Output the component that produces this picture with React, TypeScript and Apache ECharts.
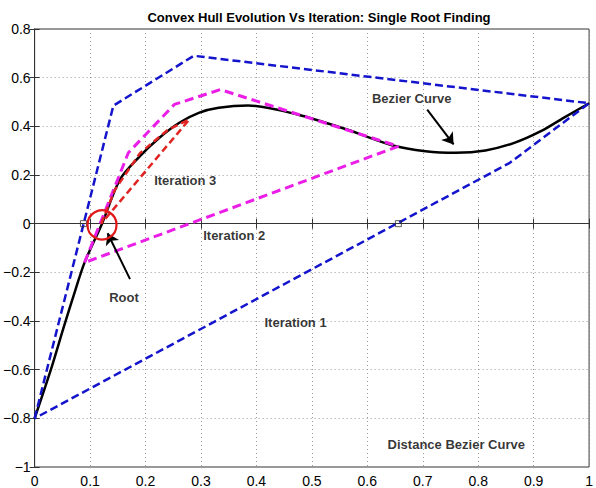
import React, { useEffect, useRef } from "react";
import * as echarts from "echarts";

const titleText = "Convex Hull Evolution Vs Iteration: Single Root Finding";

// Bezier curve samples
const bezierCurve: [number, number][] = [
  [0, -0.8], [0.0297, -0.597], [0.0533, -0.419], [0.074, -0.269], [0.09, -0.16],
  [0.1215, 0.0], [0.154, 0.182], [0.19, 0.2776], [0.225, 0.353], [0.261, 0.4145],
  [0.296, 0.4555], [0.332, 0.476], [0.385, 0.4855], [0.474, 0.4485], [0.563, 0.387],
  [0.646, 0.3215], [0.705, 0.298], [0.7596, 0.2915], [0.813, 0.301], [0.865, 0.332],
  [0.913, 0.38], [0.954, 0.435], [1, 0.495],
];

// Iteration 1 convex hull (blue)
const hull1: [number, number][] = [
  [0, -0.8], [0.142, 0.485], [0.287, 0.69], [1, 0.495], [0.857, 0.25], [0, -0.8],
];
// Iteration 2 convex hull (magenta)
const hull2: [number, number][] = [
  [0.09, -0.16], [0.169, 0.2915], [0.252, 0.49], [0.335, 0.551], [0.656, 0.318], [0.09, -0.16],
];
// Iteration 3 convex hull (red)
const hull3: [number, number][] = [
  [0.12, 0.0], [0.145, 0.14], [0.19, 0.29], [0.24, 0.385], [0.279, 0.428], [0.12, 0.0],
];

// hull / axis intersections
const crossings: [number, number][] = [[0.088, 0], [0.656, 0]];
const rootPoint: [number, number][] = [[0.1215, -0.005]];

// annotations
const labels: [number, number, string][] = [
  [0.68, 0.513, "Bezier Curve"],
  [0.2716, 0.178, "Iteration 3"],
  [0.36, -0.0504, "Iteration 2"],
  [0.1612, -0.303, "Root"],
  [0.4706, -0.4055, "Iteration 1"],
  [0.7604, -0.9086, "Distance Bezier Curve"],
];
const arrows: [[number, number], [number, number]][] = [
  [[0.708, 0.469], [0.7556, 0.3256]],
  [[0.172, -0.228], [0.1316, -0.0394]],
];

const xTicks = { min: 0, max: 1, interval: 0.1 };
const yTicks = { min: -1, max: 0.8, interval: 0.2 };

const FONT = "'Liberation Sans', Arial, Helvetica, sans-serif";

const fmt = (v: number) => String(+Number(v).toFixed(1)).replace("-", "\u2212");

export default function App() {
  const ref = useRef<HTMLDivElement>(null);
  useEffect(() => {
    if (!ref.current) return;
    const chart = echarts.init(ref.current, undefined, { renderer: "svg" });
    const axisLine = { show: true, lineStyle: { color: "#333", width: 1 } };
    const tick = { show: true, inside: true, length: 5, lineStyle: { color: "#333" } };
    const split = { show: true, lineStyle: { color: "#9a9a9a", type: [1, 3] as any, width: 1 } };
    chart.setOption({
      animation: false,
      backgroundColor: "#fff",
      title: {
        text: titleText,
        left: 314,
        textAlign: "center",
        top: 6,
        textStyle: { fontFamily: FONT, fontSize: 13, fontWeight: "bold", color: "#000" },
      },
      grid: { left: 33, right: 0, top: 29, bottom: 20, show: true, borderColor: "#333", borderWidth: 1 },
      xAxis: [
        {
          type: "value", ...xTicks, position: "bottom",
          axisLine, axisTick: tick, splitLine: split,
          axisLabel: { fontFamily: FONT, fontSize: 14, color: "#000", margin: 7, formatter: fmt },
        },
        {
          type: "value", ...xTicks, position: "top",
          axisLine, axisTick: tick, splitLine: { show: false }, axisLabel: { show: false },
        },
      ],
      yAxis: [
        {
          type: "value", ...yTicks, position: "left",
          axisLine, axisTick: tick, splitLine: split,
          axisLabel: { fontFamily: FONT, fontSize: 14, color: "#000", margin: 4, formatter: fmt },
        },
        {
          type: "value", ...yTicks, position: "right",
          axisLine, axisTick: tick, splitLine: { show: false }, axisLabel: { show: false },
        },
      ],
      series: [
        {
          type: "line", data: bezierCurve, smooth: 0.3, showSymbol: false,
          lineStyle: { color: "#000", width: 2.5 }, silent: true, z: 3,
          markLine: {
            silent: true, symbol: ["none", "arrow"], symbolSize: 11,
            lineStyle: { color: "#000", width: 2, type: "solid" },
            label: { show: false },
            data: arrows.map(([a, b]) => [{ coord: a }, { coord: b }]),
          },
        },
        {
          type: "line", data: hull1, showSymbol: false,
          lineStyle: { color: "#1414cc", width: 2.5, type: [8, 4] }, silent: true, z: 4,
        },
        {
          type: "line", data: hull2, showSymbol: false,
          lineStyle: { color: "#ea1ee6", width: 3, type: [9, 5] }, silent: true, z: 4,
        },
        {
          type: "line", data: hull3, showSymbol: false,
          lineStyle: { color: "#e02424", width: 2.5, type: [7, 4] }, silent: true, z: 5,
        },
        {
          type: "scatter", data: crossings, symbol: "rect", symbolSize: 6,
          itemStyle: { color: "transparent", borderColor: "#333", borderWidth: 1 }, silent: true, z: 6,
        },
        {
          type: "scatter", data: rootPoint, symbol: "circle", symbolSize: 29,
          itemStyle: { color: "rgba(0,0,0,0)", borderColor: "#e01818", borderWidth: 2.2, opacity: 1 },
          silent: true, z: 6,
        },
        {
          type: "scatter", data: labels, symbolSize: 0.1, silent: true, z: 7,
          itemStyle: { color: "transparent" },
          label: {
            show: true, position: "inside", formatter: (p: any) => p.data[2],
            fontFamily: FONT, fontSize: 13, fontWeight: "bold", color: "#000",
          },
        },
      ],
    });
    return () => chart.dispose();
  }, []);
  return (
    <div
      ref={ref}
      style={{ position: "absolute", left: 0, top: 0, width: 596, height: 488, background: "#fff" }}
    />
  );
}
